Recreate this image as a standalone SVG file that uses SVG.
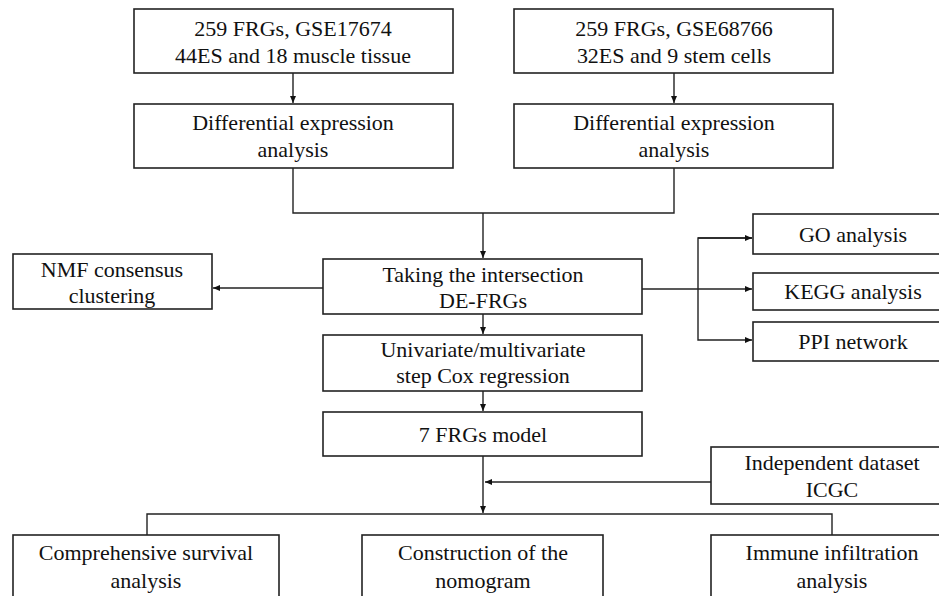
<svg xmlns="http://www.w3.org/2000/svg" width="939" height="596" viewBox="0 0 939 596">
<style>
.box{fill:#fff;stroke:#222;stroke-width:1.6}
.t{font-family:"Liberation Serif","Times New Roman",serif;font-size:20px;fill:#111;text-anchor:middle}
.c{fill:none;stroke:#222;stroke-width:1.4}
</style>
<defs>
<marker id="ah" markerWidth="8" markerHeight="8" refX="7" refY="4" orient="auto" markerUnits="userSpaceOnUse">
<path d="M0,1 L7,4 L0,7 Z" fill="#111"/>
</marker>
</defs>
<rect width="939" height="596" fill="#fff"/>
<g id="connectors">
<path class="c" d="M293,73 V103" marker-end="url(#ah)"/>
<path class="c" d="M674,73 V103" marker-end="url(#ah)"/>
<path class="c" d="M293,168 V213 H674 V168"/>
<path class="c" d="M483,213 V258" marker-end="url(#ah)"/>
<path class="c" d="M323,288 H213" marker-end="url(#ah)"/>
<path class="c" d="M642,289 H752" marker-end="url(#ah)"/>
<path class="c" d="M752,238 H698 V340 H752" marker-end="url(#ah)"/>
<path class="c" d="M698,238 H752" marker-end="url(#ah)"/>
<path class="c" d="M483,314 V334" marker-end="url(#ah)"/>
<path class="c" d="M483,391 V411" marker-end="url(#ah)"/>
<path class="c" d="M483,456 V513" marker-end="url(#ah)"/>
<path class="c" d="M711,482 H485" marker-end="url(#ah)"/>
<path class="c" d="M147,535 V514 H832 V535"/>
</g>
<g id="n1"><rect class="box" x="134" y="9" width="319" height="64"/><text class="t" transform="matrix(1.1 0 0 1 293 0)" y="36">259 FRGs, GSE17674</text><text class="t" transform="matrix(1.1 0 0 1 293 0)" y="63">44ES and 18 muscle tissue</text></g>
<g id="n2"><rect class="box" x="514" y="9" width="319" height="64"/><text class="t" transform="matrix(1.1 0 0 1 674 0)" y="36">259 FRGs, GSE68766</text><text class="t" transform="matrix(1.1 0 0 1 674 0)" y="63">32ES and 9 stem cells</text></g>
<g id="n3"><rect class="box" x="134" y="104" width="319" height="64"/><text class="t" transform="matrix(1.1 0 0 1 293 0)" y="130">Differential expression</text><text class="t" transform="matrix(1.1 0 0 1 293 0)" y="157">analysis</text></g>
<g id="n4"><rect class="box" x="514" y="104" width="319" height="64"/><text class="t" transform="matrix(1.1 0 0 1 674 0)" y="130">Differential expression</text><text class="t" transform="matrix(1.1 0 0 1 674 0)" y="157">analysis</text></g>
<g id="n5"><rect class="box" x="323" y="259" width="319" height="55"/><text class="t" transform="matrix(1.1 0 0 1 483 0)" y="282">Taking the intersection</text><text class="t" transform="matrix(1.1 0 0 1 483 0)" y="308">DE-FRGs</text></g>
<g id="n6"><rect class="box" x="13" y="254" width="199" height="55"/><text class="t" transform="matrix(1.1 0 0 1 112 0)" y="277">NMF consensus</text><text class="t" transform="matrix(1.1 0 0 1 112 0)" y="303">clustering</text></g>
<g id="n7"><rect class="box" x="753" y="214" width="200" height="40"/><text class="t" transform="matrix(1.1 0 0 1 853 0)" y="242">GO analysis</text></g>
<g id="n8"><rect class="box" x="753" y="273" width="200" height="37"/><text class="t" transform="matrix(1.1 0 0 1 853 0)" y="299">KEGG analysis</text></g>
<g id="n9"><rect class="box" x="753" y="322" width="200" height="39"/><text class="t" transform="matrix(1.1 0 0 1 853 0)" y="349">PPI network</text></g>
<g id="n10"><rect class="box" x="323" y="335" width="319" height="56"/><text class="t" transform="matrix(1.1 0 0 1 483 0)" y="357">Univariate/multivariate</text><text class="t" transform="matrix(1.1 0 0 1 483 0)" y="383">step Cox regression</text></g>
<g id="n11"><rect class="box" x="323" y="412" width="319" height="44"/><text class="t" transform="matrix(1.1 0 0 1 483 0)" y="442">7 FRGs model</text></g>
<g id="n12"><rect class="box" x="711" y="447" width="242" height="57"/><text class="t" transform="matrix(1.1 0 0 1 832 0)" y="470">Independent dataset</text><text class="t" transform="matrix(1.1 0 0 1 832 0)" y="497">ICGC</text></g>
<g id="n13"><rect class="box" x="13" y="535" width="266" height="70"/><text class="t" transform="matrix(1.1 0 0 1 146 0)" y="560">Comprehensive survival</text><text class="t" transform="matrix(1.1 0 0 1 146 0)" y="588">analysis</text></g>
<g id="n14"><rect class="box" x="362" y="535" width="241" height="70"/><text class="t" transform="matrix(1.1 0 0 1 483 0)" y="560">Construction of the</text><text class="t" transform="matrix(1.1 0 0 1 483 0)" y="588">nomogram</text></g>
<g id="n15"><rect class="box" x="711" y="535" width="242" height="70"/><text class="t" transform="matrix(1.1 0 0 1 832 0)" y="560">Immune infiltration</text><text class="t" transform="matrix(1.1 0 0 1 832 0)" y="588">analysis</text></g>
</svg>
